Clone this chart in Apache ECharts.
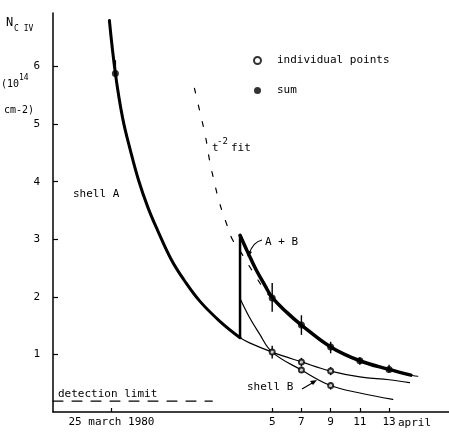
<!DOCTYPE html>
<html>
<head>
<meta charset="utf-8">
<script src="https://cdn.jsdelivr.net/npm/echarts@6/dist/echarts.min.js"></script>
<style>html,body{margin:0;padding:0;background:#fff}#c{width:449px;height:442px}</style>
</head>
<body>
<div id="c"></div>
<script>
// ---- data (x = days after 25 March 1980, y = N_CIV in 1e14 cm^-2) ----
const xTicks = [0, 11, 13, 15, 17, 19];
const xTickLabels = ['25 march 1980', '5', '7', '9', '11', '13'];
const yTicks = [1, 2, 3, 4, 5, 6];

const shellAEarlyX = [-0.14, 0.27, 0.77, 1.3, 1.85, 2.5, 3.15, 4.11, 5.0, 6.03, 7.4, 8.8];
const shellAEarlyY = [6.80, 5.88, 5.10, 4.54, 4.03, 3.55, 3.16, 2.64, 2.28, 1.93, 1.58, 1.29];

const jumpX = [8.8, 8.8];
const jumpY = [1.29, 3.07];

const sumCurveX = [8.8, 9.3, 9.9, 10.5, 11, 12, 13, 15, 17, 19, 20.5];
const sumCurveY = [3.07, 2.79, 2.47, 2.20, 1.99, 1.73, 1.51, 1.13, 0.89, 0.74, 0.64];

const shellALateX = [8.8, 9.45, 11, 13, 15, 17, 19, 20.4];
const shellALateY = [1.29, 1.20, 1.04, 0.87, 0.71, 0.61, 0.56, 0.51];

const shellBX = [8.8, 9.45, 10.1, 11, 13, 15, 17, 19.25];
const shellBY = [1.97, 1.64, 1.37, 1.04, 0.73, 0.46, 0.33, 0.22];

const fitX = [5.68, 6.03, 6.44, 6.71, 7.05, 7.40, 7.86, 8.29, 8.77, 9.59, 10.48, 11, 13, 15, 17, 19, 20.5, 21.3];
const fitY = [5.62, 5.24, 4.78, 4.38, 3.98, 3.63, 3.28, 2.99, 2.81, 2.47, 2.12, 1.97, 1.50, 1.12, 0.88, 0.73, 0.64, 0.61];

const detX = [-4, 6.9];
const detY = [0.19, 0.19];

const sumPtX = [0.27, 11, 13, 15, 17, 19];
const sumPtY = [5.88, 1.98, 1.51, 1.13, 0.89, 0.74];
const sumErrLo = [5.88, 1.74, 1.34, 1.02, 0.82, 0.68];
const sumErrHi = [6.11, 2.24, 1.68, 1.22, 0.95, 0.82];

const indX = [11, 13, 13, 15, 15];
const indY = [1.04, 0.87, 0.73, 0.71, 0.46];
const indErrLo = [0.93, 0.79, 0.68, 0.64, 0.39];
const indErrHi = [1.15, 0.94, 0.78, 0.78, 0.51];

// ---- helpers ----
const zip = (xs, ys) => xs.map((x, i) => [x, ys[i]]);
const zip3 = (xs, a, b) => xs.map((x, i) => [x, a[i], b[i]]);
const FONT = 'DejaVu Sans Mono';
const BLACK = '#000';

function errRender(params, api) {
  const x = api.value(0), lo = api.value(1), hi = api.value(2);
  const p1 = api.coord([x, lo]), p2 = api.coord([x, hi]);
  return { type: 'line', shape: { x1: p1[0], y1: p1[1], x2: p2[0], y2: p2[1] },
           style: { stroke: BLACK, lineWidth: 1.4 } };
}

function curve(name, xs, ys, width, dash, smooth) {
  return {
    name, type: 'line', data: zip(xs, ys), symbol: 'none', silent: true,
    smooth: smooth === undefined ? 0.4 : smooth,
    lineStyle: { color: BLACK, width, type: dash || 'solid', cap: 'round' },
    z: 3
  };
}

function txt(text, x, y, size, extra) {
  return Object.assign({ type: 'text', x, y, silent: true,
    style: { text, fill: BLACK, font: size + 'px "' + FONT + '"', verticalAlign: 'middle', align: 'left' } }, extra || {});
}

const chart = echarts.init(document.getElementById('c'), null, { renderer: 'canvas' });
chart.setOption({
  animation: false,
  backgroundColor: '#fff',
  grid: { left: 53, right: 0, top: 13, bottom: 30, containLabel: false },
  xAxis: {
    type: 'value', min: -4, max: 23.1,
    axisLine: { show: true, onZero: false, lineStyle: { color: BLACK, width: 1.5 } },
    axisTick: { show: true, inside: true, length: 4, customValues: xTicks, lineStyle: { color: BLACK, width: 1.2 } },
    axisLabel: {
      customValues: xTicks, margin: 5, color: BLACK, fontFamily: FONT, fontSize: 11,
      hideOverlap: false, showMaxLabel: true, showMinLabel: true,
      formatter: v => {
        const i = xTicks.indexOf(v);
        return i >= 0 ? xTickLabels[i] : '';
      }
    },
    splitLine: { show: false }
  },
  yAxis: {
    type: 'value', min: 0, max: 6.93,
    axisLine: { show: true, onZero: false, lineStyle: { color: BLACK, width: 1.5 } },
    axisTick: { show: true, inside: true, length: 5, customValues: yTicks, lineStyle: { color: BLACK, width: 1.2 } },
    axisLabel: { customValues: yTicks, margin: 13, color: BLACK, fontFamily: FONT, fontSize: 11 },
    splitLine: { show: false }
  },
  legend: {
    orient: 'vertical', left: 248, top: 50, itemWidth: 7, itemHeight: 7, itemGap: 19,
    selectedMode: false,
    data: [{ name: 'individual points', icon: 'emptyCircle' }, { name: 'sum', icon: 'circle' }],
    textStyle: { color: BLACK, fontFamily: FONT, fontSize: 11, padding: [0, 0, 0, 11] }
  },
  series: [
    curve('shell A early', shellAEarlyX, shellAEarlyY, 3),
    curve('jump', jumpX, jumpY, 2.5, null, false),
    curve('sum curve', sumCurveX, sumCurveY, 3.5),
    curve('shell A late', shellALateX, shellALateY, 1.2),
    curve('shell B', shellBX, shellBY, 1.2),
    curve('t-2 fit', fitX, fitY, 1.2, [5, 12]),
    curve('detection limit', detX, detY, 1.2, [10, 9], false),
    { name: 'sum err', type: 'custom', renderItem: errRender, data: zip3(sumPtX, sumErrLo, sumErrHi), silent: true, z: 4 },
    { name: 'ind err', type: 'custom', renderItem: errRender, data: zip3(indX, indErrLo, indErrHi), silent: true, z: 4 },
    { name: 'sum', type: 'scatter', data: zip(sumPtX, sumPtY), symbol: 'circle', symbolSize: 7,
      itemStyle: { color: BLACK }, z: 5, silent: true },
    { name: 'individual points', type: 'scatter', data: zip(indX, indY), symbol: 'emptyCircle', symbolSize: 5,
      itemStyle: { color: BLACK, borderColor: BLACK, borderWidth: 1.5 }, z: 5, silent: true }
  ],
  graphic: [
    txt('N', 6, 23, 12),
    txt('C IV', 14, 29, 8),
    txt('(10', 1, 84, 10),
    txt('14', 19, 78, 8),
    txt('cm-2)', 4, 110, 10),
    txt('shell A', 73, 194, 11),
    txt('t', 212, 148, 11),
    txt('-2', 217, 142, 9),
    txt('fit', 231, 148, 11),
    txt('A + B', 265, 242, 11),
    txt('shell B', 247, 387, 11),
    txt('detection limit', 58, 394, 11),
    txt('april', 398, 423, 11),
    { type: 'bezierCurve', silent: true,
      shape: { x1: 262, y1: 240, cpx1: 253, cpy1: 242, x2: 249, y2: 254 },
      style: { stroke: BLACK, lineWidth: 1.2, fill: null } },
    { type: 'polygon', silent: true, shape: { points: [[248, 257], [246, 250], [252, 252]] }, style: { fill: BLACK } },
    { type: 'line', silent: true, shape: { x1: 302, y1: 389, x2: 314, y2: 382 }, style: { stroke: BLACK, lineWidth: 1.2 } },
    { type: 'polygon', silent: true, shape: { points: [[317, 380], [310, 381], [313, 385]] }, style: { fill: BLACK } }
  ]
});
</script>
</body>
</html>
